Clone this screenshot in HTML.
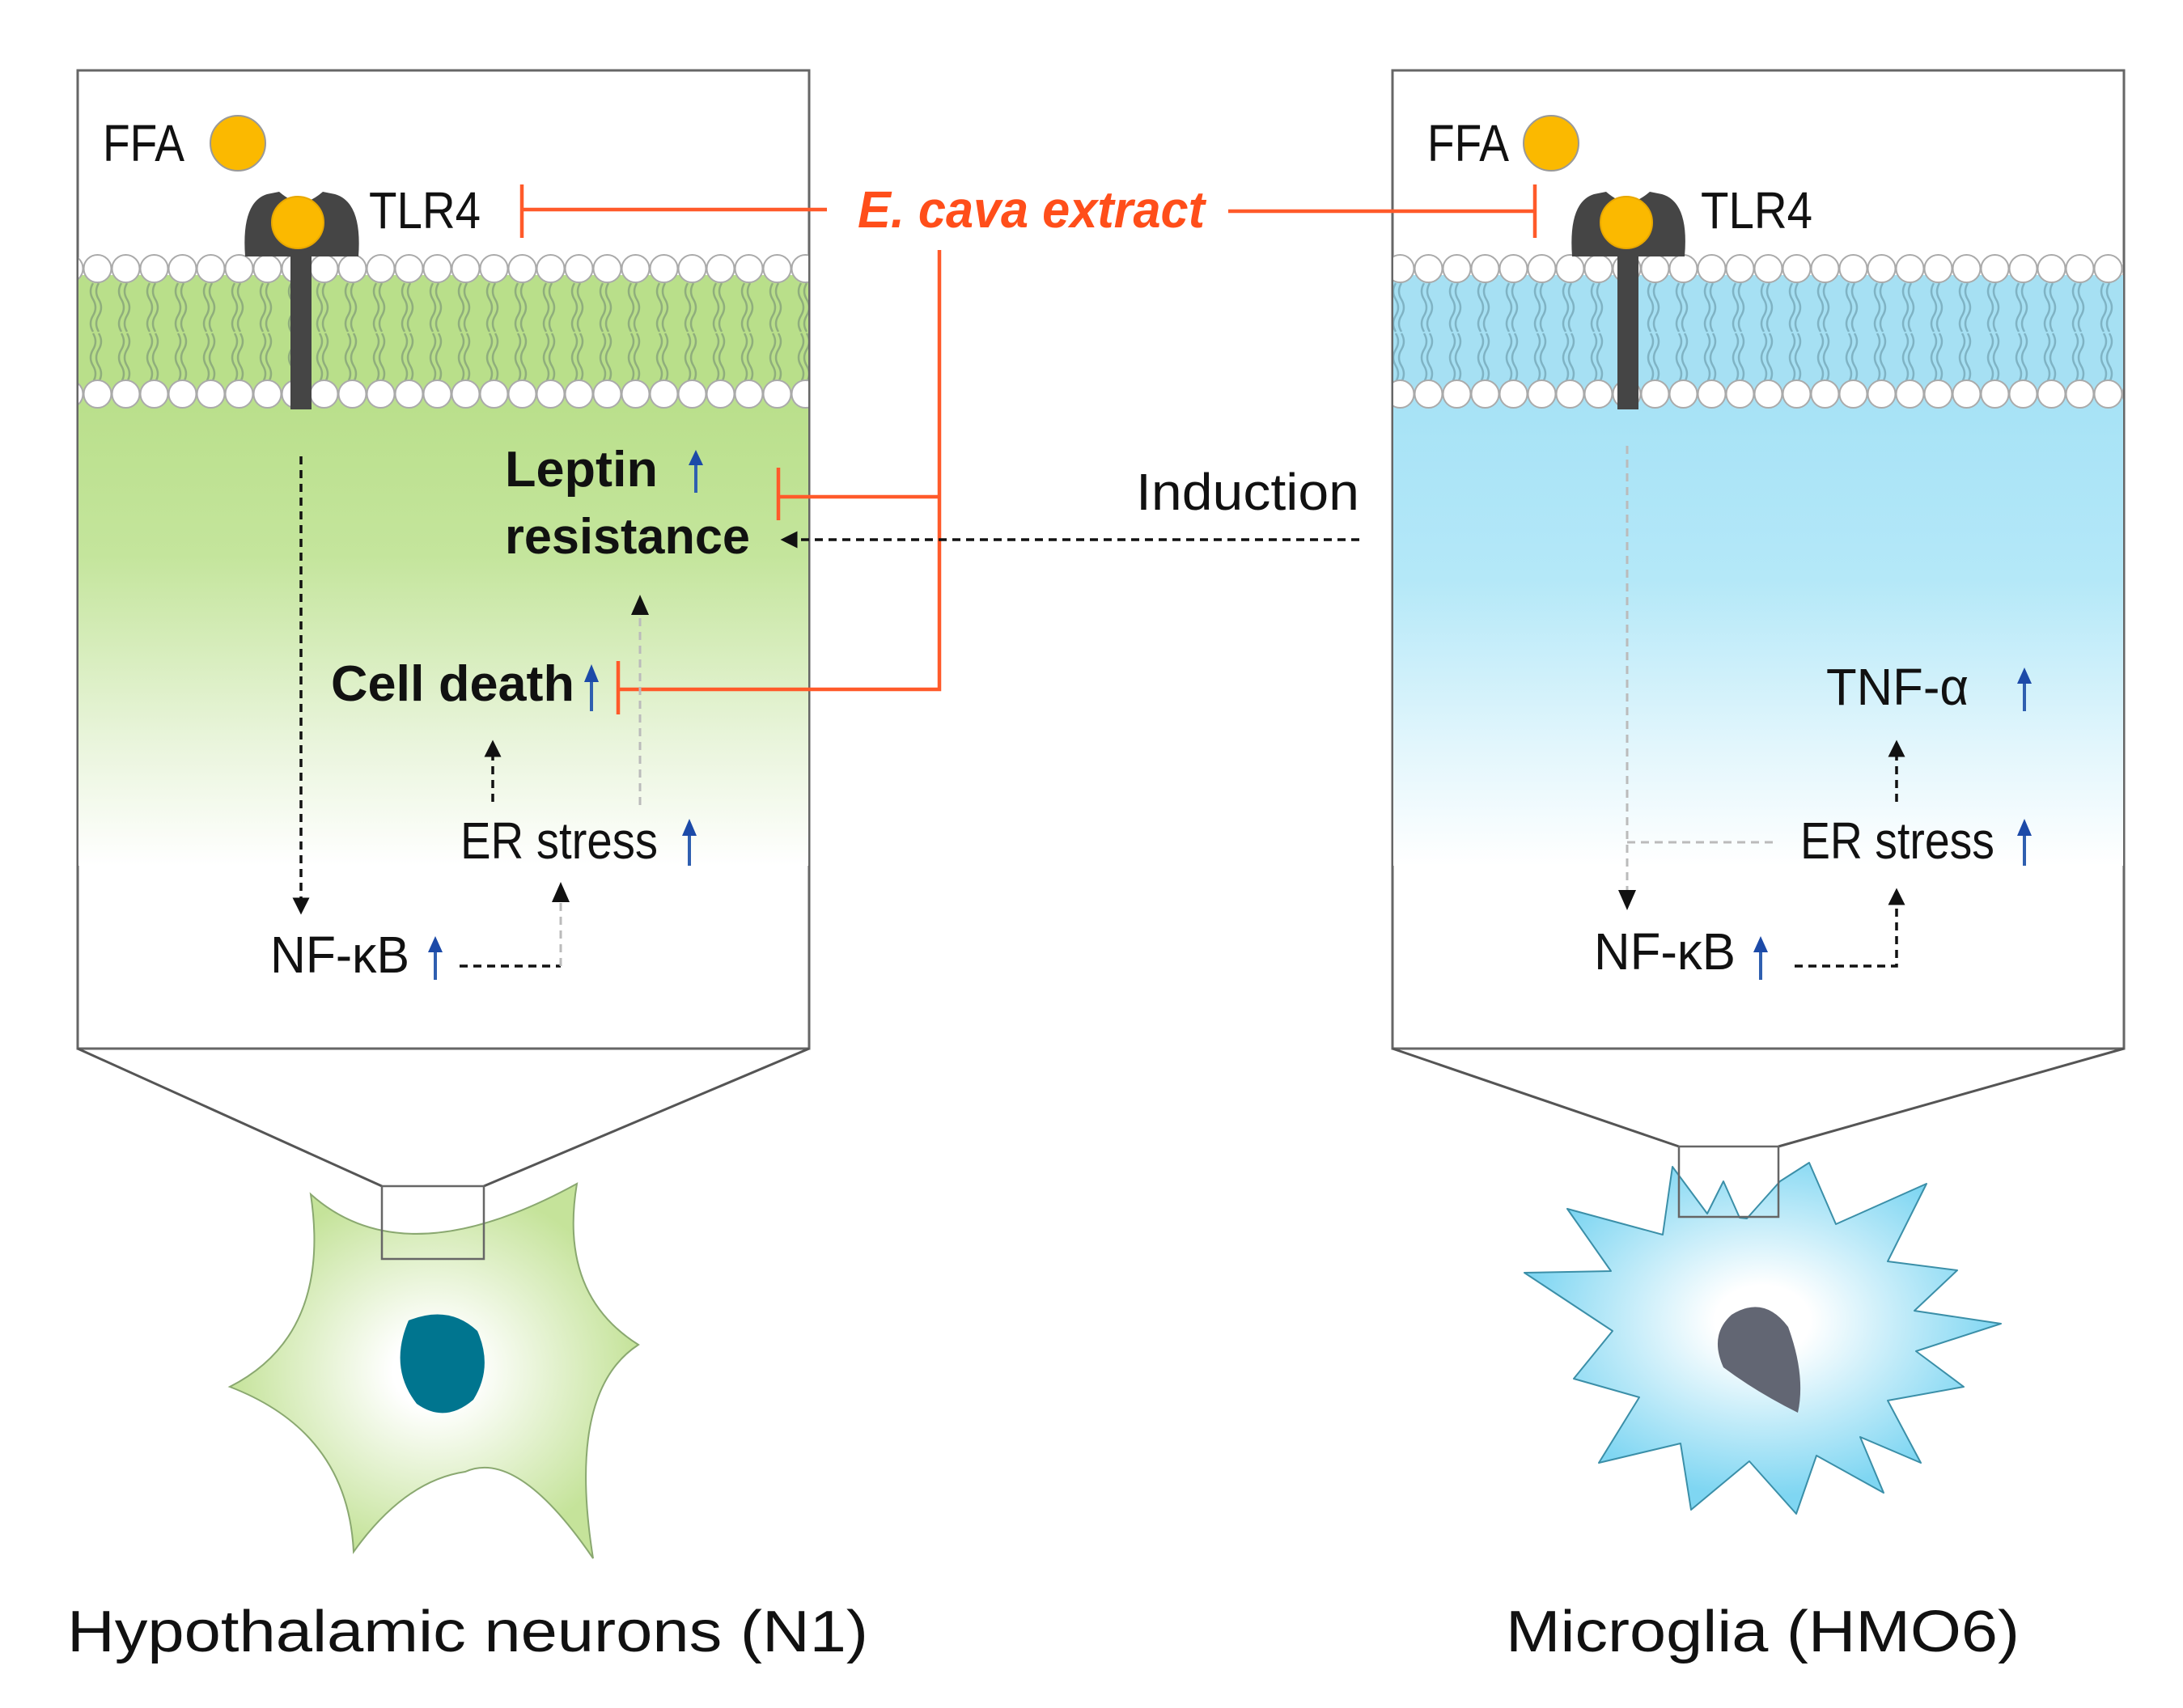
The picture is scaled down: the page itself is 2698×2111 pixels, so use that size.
<!DOCTYPE html>
<html><head><meta charset="utf-8"><style>html,body{margin:0;padding:0;background:#fff}svg{display:block}</style></head>
<body>
<svg width="2698" height="2111" viewBox="0 0 2698 2111" xmlns="http://www.w3.org/2000/svg" font-family="'Liberation Sans', sans-serif">
<defs>
<linearGradient id="gG" x1="0" y1="0" x2="0" y2="1">
<stop offset="0" stop-color="#b9df8a"/><stop offset="0.35" stop-color="#c4e59c"/><stop offset="0.75" stop-color="#eaf5dd"/><stop offset="1" stop-color="#ffffff"/></linearGradient>
<linearGradient id="gB" x1="0" y1="0" x2="0" y2="1">
<stop offset="0" stop-color="#a6e2f6"/><stop offset="0.4" stop-color="#b4e8f8"/><stop offset="0.75" stop-color="#e2f6fc"/><stop offset="1" stop-color="#ffffff"/></linearGradient>
<pattern id="tailG" x="0" y="332" width="35" height="153" patternUnits="userSpaceOnUse">
<g fill="none" stroke="#8fae7c" stroke-width="2.5">
<path d="M10,18 q-6,10 0,20 q6,10 0,20 q-6,10 0,20"/><path d="M17,18 q-6,10 0,20 q6,10 0,20 q-6,10 0,20"/>
<path d="M10,80 q6,10 0,20 q-6,10 0,20 q6,10 0,20"/><path d="M17,80 q6,10 0,20 q-6,10 0,20 q6,10 0,20"/>
</g></pattern>
<pattern id="tailB" x="0" y="332" width="35" height="153" patternUnits="userSpaceOnUse">
<g fill="none" stroke="#7fb3c4" stroke-width="2.5">
<path d="M10,18 q-6,10 0,20 q6,10 0,20 q-6,10 0,20"/><path d="M17,18 q-6,10 0,20 q6,10 0,20 q-6,10 0,20"/>
<path d="M10,80 q6,10 0,20 q-6,10 0,20 q6,10 0,20"/><path d="M17,80 q6,10 0,20 q-6,10 0,20 q6,10 0,20"/>
</g></pattern>
<pattern id="heads" x="-2" y="0" width="35" height="2111" patternUnits="userSpaceOnUse">
<circle cx="17.5" cy="332" r="17" fill="#fff" stroke="#aaa" stroke-width="2"/>
<circle cx="17.5" cy="487" r="17" fill="#fff" stroke="#aaa" stroke-width="2"/>
</pattern>
<radialGradient id="rG" cx="0.5" cy="0.5" r="0.5"><stop offset="0.2" stop-color="#fff"/><stop offset="1" stop-color="#c5e39a"/></radialGradient>
<radialGradient id="rB" cx="0.5" cy="0.45" r="0.5"><stop offset="0.2" stop-color="#fff"/><stop offset="1" stop-color="#7fd6f2"/></radialGradient>
<marker id="ah" viewBox="0 0 10 10" refX="5" refY="5" markerWidth="6" markerHeight="6" orient="auto"><path d="M0,0 L10,5 L0,10 Z" fill="#111"/></marker>
</defs>

<rect x="96" y="87" width="904" height="1209" fill="#fff" stroke="#666" stroke-width="3"/>
<rect x="97" y="340" width="902" height="140" fill="#b9df8a"/>
<rect x="97" y="340" width="902" height="140" fill="url(#tailG)"/>
<rect x="97" y="480" width="902" height="590" fill="url(#gG)"/>
<rect x="97" y="312" width="902" height="196" fill="url(#heads)"/>
<rect x="1721" y="87" width="904" height="1209" fill="#fff" stroke="#666" stroke-width="3"/>
<rect x="1722" y="340" width="902" height="140" fill="#a6e0f3"/>
<rect x="1722" y="340" width="902" height="140" fill="url(#tailB)"/>
<rect x="1722" y="480" width="902" height="590" fill="url(#gB)"/>
<rect x="1722" y="312" width="902" height="196" fill="url(#heads)"/>

<path d="M96,1296 L472,1466 M1000,1296 L598,1466" stroke="#555" stroke-width="3" fill="none"/>
<path d="M1721,1296 L2075,1417 M2625,1296 L2198,1417" stroke="#555" stroke-width="3" fill="none"/>

<path d="M384,1476 Q500,1580 713,1463 Q690,1600 789,1662 Q700,1720 733,1926 Q640,1790 575,1819 Q500,1830 437,1918 Q430,1770 284,1714 Q410,1650 384,1476 Z" fill="url(#rG)" stroke="#8aa870" stroke-width="2"/>
<path d="M505,1632 Q555,1612 590,1645 Q610,1690 585,1730 Q550,1760 515,1735 Q480,1690 505,1632 Z" fill="#00758f"/>
<rect x="472" y="1466" width="126" height="90" fill="none" stroke="#666" stroke-width="2.5"/>

<path d="M2236,1437 L2269,1513 L2381,1463 L2333,1559 L2419,1570 L2366,1620 L2473,1636 L2368,1670 L2427,1714 L2333,1731 L2374,1808 L2299,1776 L2328,1845 L2245,1799 L2220,1871 L2162,1806 L2090,1866 L2077,1784 L1976,1808 L2026,1727 L1945,1704 L1993,1645 L1884,1573 L1991,1571 L1937,1494 L2055,1526 L2067,1442 L2110,1500 L2130,1460 L2150,1505 L2159,1506 L2200,1460 Z" fill="url(#rB)" stroke="#3b8fa8" stroke-width="2" stroke-linejoin="round"/>
<path d="M2140,1625 Q2180,1600 2210,1640 Q2232,1700 2222,1746 Q2170,1720 2130,1690 Q2112,1650 2140,1625 Z" fill="#626673"/>
<rect x="2075" y="1417" width="123" height="87" fill="none" stroke="#666" stroke-width="2.5"/>

<g fill="#454545">
<path d="M303,317 Q298,250 330,240 L345,237 Q360,250 372,250 Q384,250 399,237 L414,240 Q448,250 443,317 Z"/>
<rect x="359" y="310" width="26" height="196"/>
<path d="M1943,317 Q1938,250 1970,240 L1985,237 Q2000,250 2012,250 Q2024,250 2039,237 L2054,240 Q2088,250 2082,317 Z"/>
<rect x="1999" y="310" width="26" height="196"/>
</g>
<circle cx="368" cy="275" r="32" fill="#fbb900" stroke="#e8a800" stroke-width="2"/>
<circle cx="2010" cy="275" r="32" fill="#fbb900" stroke="#e8a800" stroke-width="2"/>
<circle cx="294" cy="177" r="34" fill="#fbb900" stroke="#999" stroke-width="2"/>
<circle cx="1917" cy="177" r="34" fill="#fbb900" stroke="#999" stroke-width="2"/>

<g font-size="64" fill="#111">
<text x="127" y="199" textLength="101" lengthAdjust="spacingAndGlyphs">FFA</text>
<text x="456" y="282" textLength="138" lengthAdjust="spacingAndGlyphs">TLR4</text>
<text x="1764" y="199" textLength="101" lengthAdjust="spacingAndGlyphs">FFA</text>
<text x="2102" y="282" textLength="138" lengthAdjust="spacingAndGlyphs">TLR4</text>
<text x="569" y="1061" textLength="244" lengthAdjust="spacingAndGlyphs">ER stress</text>
<text x="334" y="1202" textLength="172" lengthAdjust="spacingAndGlyphs">NF-κB</text>
<text x="2257" y="871" textLength="176" lengthAdjust="spacingAndGlyphs">TNF-α</text>
<text x="2225" y="1061" textLength="240" lengthAdjust="spacingAndGlyphs">ER stress</text>
<text x="1970" y="1198" textLength="175" lengthAdjust="spacingAndGlyphs">NF-κB</text>
<text x="1404" y="630" textLength="276" lengthAdjust="spacingAndGlyphs">Induction</text>
<text x="83" y="2041" font-size="72" textLength="990" lengthAdjust="spacingAndGlyphs">Hypothalamic neurons (N1)</text>
<text x="1861" y="2041" font-size="72" textLength="635" lengthAdjust="spacingAndGlyphs">Microglia (HMO6)</text>
</g>
<g font-size="62" font-weight="bold" fill="#111">
<text x="624" y="601" textLength="189" lengthAdjust="spacingAndGlyphs">Leptin</text>
<text x="624" y="684" textLength="303" lengthAdjust="spacingAndGlyphs">resistance</text>
<text x="409" y="866" textLength="301" lengthAdjust="spacingAndGlyphs">Cell death</text>
</g>
<text x="1060" y="281" font-size="64" font-weight="bold" font-style="italic" fill="#ff4e1a" textLength="429" lengthAdjust="spacingAndGlyphs">E. cava extract</text>

<g stroke="#ff5a2a" stroke-width="4.5" fill="none">
<path d="M1022,259 L645,259 M645,228 L645,294"/>
<path d="M1518,261 L1897,261 M1897,228 L1897,294"/>
<path d="M1161,309 L1161,852 L764,852 M764,817 L764,883"/>
<path d="M1161,614 L962,614 M962,578 L962,643"/>
</g>

<g stroke="#111" stroke-width="3.5" stroke-dasharray="10 7" fill="none">
<path d="M1680,667 L975,667" marker-end="url(#ah)"/>
<path d="M372,564 L372,1120" marker-end="url(#ah)"/>
<path d="M609,991 L609,925" marker-end="url(#ah)"/>
<path d="M568,1194 L693,1194"/>
<path d="M2218,1194 L2344,1194 L2344,1108" marker-end="url(#ah)"/>
<path d="M2344,991 L2344,925" marker-end="url(#ah)"/>
</g>
<g stroke="#bbb" stroke-width="3" stroke-dasharray="10 7" fill="none">
<path d="M693,1194 L693,1110"/>
<path d="M791,995 L791,760"/>
<path d="M2011,551 L2011,1100"/>
<path d="M2011,1041 L2196,1041"/>
</g>
<g fill="#111">
<path d="M682,1115 L693,1090 L704,1115 Z"/>
<path d="M780,760 L791,735 L802,760 Z"/>
<path d="M2000,1100 L2011,1125 L2022,1100 Z"/>
</g>

<g stroke="#2f5fb0" stroke-width="4" fill="#1c4aa8">
<line x1="860" y1="609" x2="860" y2="570"/><path d="M851,575 L860,556 L869,575 Z" stroke="none"/>
<line x1="731" y1="879" x2="731" y2="838"/><path d="M722,843 L731,821 L740,843 Z" stroke="none"/>
<line x1="852" y1="1070" x2="852" y2="1028"/><path d="M843,1033 L852,1012 L861,1033 Z" stroke="none"/>
<line x1="538" y1="1211" x2="538" y2="1172"/><path d="M529,1177 L538,1157 L547,1177 Z" stroke="none"/>
<line x1="2502" y1="879" x2="2502" y2="840"/><path d="M2493,845 L2502,825 L2511,845 Z" stroke="none"/>
<line x1="2502" y1="1070" x2="2502" y2="1028"/><path d="M2493,1033 L2502,1012 L2511,1033 Z" stroke="none"/>
<line x1="2176" y1="1211" x2="2176" y2="1172"/><path d="M2167,1177 L2176,1157 L2185,1177 Z" stroke="none"/>
</g>
</svg>
</body></html>
